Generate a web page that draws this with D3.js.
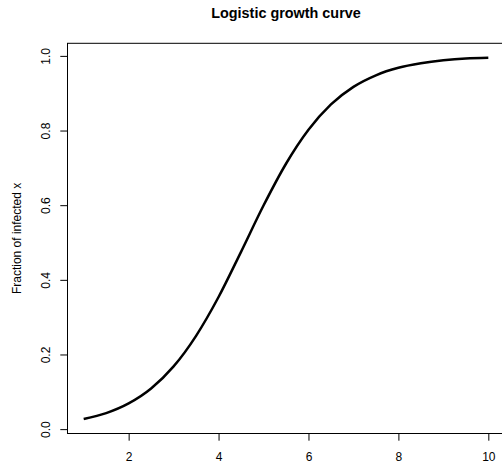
<!DOCTYPE html>
<html>
<head>
<meta charset="utf-8">
<script src="https://cdn.jsdelivr.net/npm/d3@7"></script>
<style>
  body { margin: 0; background: #fff; }
  text { font-family: "Liberation Sans", Arial, sans-serif; fill: #000; }
</style>
</head>
<body>
<div id="chart"></div>
<script>
// values
const xValues = [1, 1.5, 2, 2.5, 3, 3.5, 4, 4.5, 5, 5.5, 6, 6.5, 7, 7.5, 8, 8.5, 9, 9.5, 10];
const fraction = [0.027, 0.043, 0.069, 0.109, 0.168, 0.250, 0.354, 0.475, 0.599, 0.711,
  0.802, 0.870, 0.917, 0.948, 0.968, 0.980, 0.988, 0.993, 0.995];
const xTicks = [2, 4, 6, 8, 10];
const yTicks = [0.0, 0.2, 0.4, 0.6, 0.8, 1.0];

const title = 'Logistic growth curve';
const yLabel = 'Fraction of infected x';

const svgWidth = 502;
const svgHeight = 463;
// plot box runs past the right edge of the picture
const box = { left: 67.5, top: 43.3, right: 504.5, bottom: 433.5 };

const data = xValues.map((x, i) => ({ x: x, y: fraction[i] }));

// R style 4% padding of the data range
function padded(ext) {
  const d = (ext[1] - ext[0]) * 0.04;
  return [ext[0] - d, ext[1] + d];
}

const x = d3.scaleLinear().domain(padded(d3.extent(xValues))).range([box.left, box.right]);
const y = d3.scaleLinear().domain(padded(d3.extent(fraction))).range([box.bottom, box.top]);

const svg = d3.select('#chart')
  .append('svg')
  .attr('width', svgWidth)
  .attr('height', svgHeight);

// box
svg.append('rect')
  .attr('x', box.left)
  .attr('y', box.top)
  .attr('width', box.right - box.left)
  .attr('height', box.bottom - box.top)
  .attr('fill', 'none')
  .attr('stroke', '#000')
  .attr('stroke-width', 1);

// X axis
const xAxis = svg.append('g')
  .attr('transform', `translate(0, ${box.bottom})`)
  .call(d3.axisBottom(x).tickValues(xTicks).tickSize(7.2).tickPadding(12).tickFormat(d3.format('d')));
xAxis.select('.domain').remove();
xAxis.selectAll('text').style('font-size', '12px').attr('font-family', null);

// Y axis
const yAxis = svg.append('g')
  .attr('transform', `translate(${box.left}, 0)`)
  .call(d3.axisLeft(y).tickValues(yTicks).tickSize(7.2).tickFormat(d3.format('.1f')));
yAxis.select('.domain').remove();
yAxis.selectAll('text')
  .style('font-size', '12px')
  .attr('font-family', null)
  .attr('x', null)
  .attr('dy', null)
  .attr('text-anchor', 'middle')
  .attr('transform', 'translate(-17.5, 0) rotate(-90)');

// curve
const line = d3.line()
  .x((d) => x(d.x))
  .y((d) => y(d.y))
  .curve(d3.curveMonotoneX);

svg.append('path')
  .datum(data)
  .attr('fill', 'none')
  .attr('stroke', '#000')
  .attr('stroke-width', 2.5)
  .attr('d', line);

// title
svg.append('text')
  .attr('x', (box.left + box.right) / 2)
  .attr('y', 17.5)
  .attr('text-anchor', 'middle')
  .style('font-size', '14.4px')
  .style('font-weight', 'bold')
  .text(title);

// y label
svg.append('text')
  .attr('transform', `translate(21, ${(box.top + box.bottom) / 2}) rotate(-90)`)
  .attr('text-anchor', 'middle')
  .style('font-size', '12px')
  .text(yLabel);
</script>
</body>
</html>
